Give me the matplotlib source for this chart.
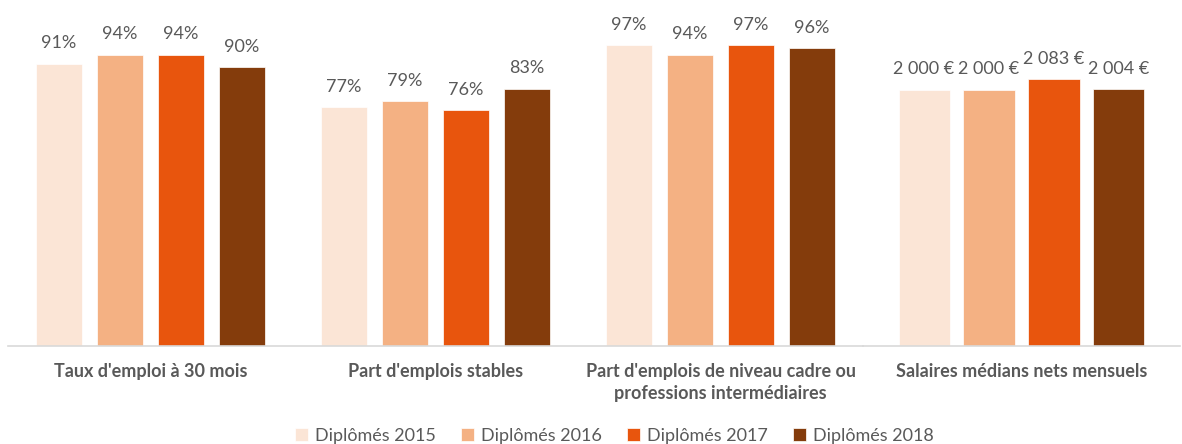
import matplotlib.pyplot as plt
import numpy as np

plt.rcParams['font.family'] = ['Lato', 'DejaVu Sans']

# data
categories = ["Taux d'emploi à 30 mois", "Part d'emplois stables",
              "Part d'emplois de niveau cadre ou\nprofessions intermédiaires"]
salary_category = "Salaires médians nets mensuels"
series = ["Diplômés 2015", "Diplômés 2016", "Diplômés 2017", "Diplômés 2018"]
pct = np.array([
    [91, 77, 97],   # 2015
    [94, 79, 94],   # 2016
    [94, 76, 97],   # 2017
    [90, 83, 96],   # 2018
])
salaries = [2000, 2000, 2083, 2004]

colors = ["#FBE5D6", "#F4B183", "#E8550D", "#843C0C"]
txt = "#595959"
grey = "#D9D9D9"

W, H = 1182, 444
fig = plt.figure(figsize=(W / 100, H / 100), dpi=100)

bottom = (H - 346) / H
height = 310 / H
x0, x1, x2 = 8, 863, 1180

ax = fig.add_axes([x0 / W, bottom, (x1 - x0) / W, height])
ax2 = fig.add_axes([x1 / W, bottom, (x2 - x1) / W, height])

x = np.arange(len(categories))
bw, step = 0.163, 0.214
for i in range(4):
    b = ax.bar(x + (i - 1.5) * step, pct[i], bw, color=colors[i],
               edgecolor="white", linewidth=0.5, label=series[i])
    ax.bar_label(b, labels=[f"{v}%" for v in pct[i]], padding=9,
                 fontsize=13, color=txt)

bw2, step2 = 0.161, 0.205
for i in range(4):
    b = ax2.bar([(i - 1.5) * step2], [salaries[i]], bw2, color=colors[i],
                edgecolor="white", linewidth=0.5)
    lab = f"{salaries[i]:,} €".replace(",", " ")
    ax2.bar_label(b, labels=[lab], padding=9, fontsize=13, color=txt)

ax.set_ylim(0, 100)
ax.set_xlim(-0.5, 2.5)
ax2.set_ylim(0, 2000 / 0.826)
ax2.set_xlim(-0.5, 0.5)

ax.set_xticks(x)
ax.set_xticklabels(categories)
ax2.set_xticks([0])
ax2.set_xticklabels([salary_category])

for a in (ax, ax2):
    a.patch.set_visible(False)
    for s in ("top", "right", "left"):
        a.spines[s].set_visible(False)
    a.spines["bottom"].set_color(grey)
    a.spines["bottom"].set_linewidth(1.2)
    a.set_yticks([])
    a.tick_params(axis="x", length=0, pad=12)
    for t in a.get_xticklabels():
        t.set_fontsize(13)
        t.set_fontweight("bold")
        t.set_color(txt)
        t.set_linespacing(1.35)

fig.legend(loc="center", bbox_to_anchor=(0.52, 0.018), ncol=4, frameon=False,
           fontsize=13, labelcolor=txt, handlelength=0.7, handleheight=0.7,
           handletextpad=0.4, columnspacing=1.4)

fig.savefig("out.png", dpi=100)
